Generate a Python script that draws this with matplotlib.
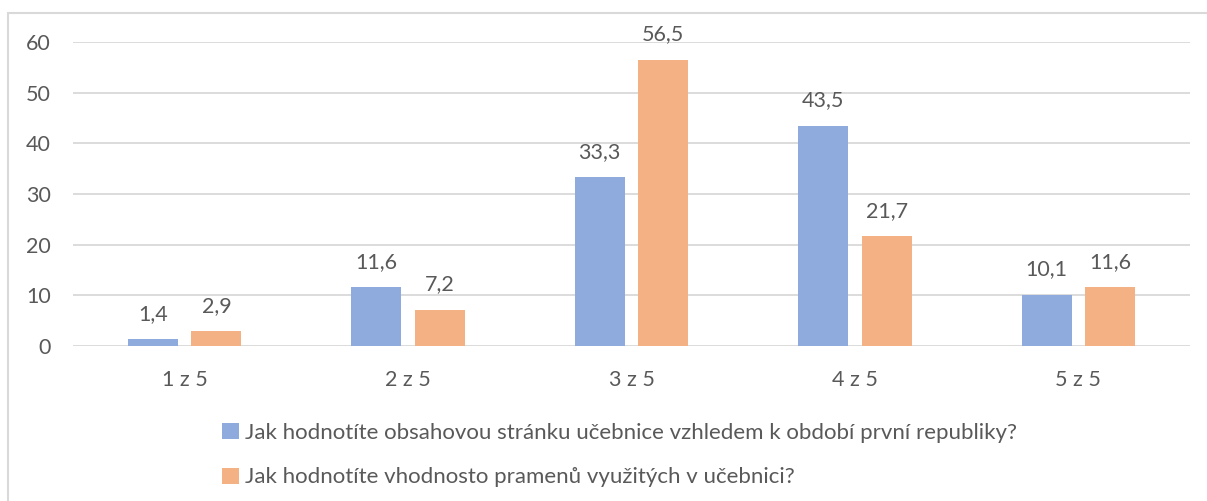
import matplotlib
matplotlib.use("Agg")
import matplotlib.pyplot as plt
import numpy as np
from matplotlib.patches import Rectangle

categories = ["1 z 5", "2 z 5", "3 z 5", "4 z 5", "5 z 5"]
obsah = [1.4, 11.6, 33.3, 43.5, 10.1]
prameny = [2.9, 7.2, 56.5, 21.7, 11.6]
series_names = [
    "Jak hodnotíte obsahovou stránku učebnice vzhledem k období první republiky?",
    "Jak hodnotíte vhodnosto pramenů využitých v učebnici?",
]

BLUE = "#8FAADC"
ORANGE = "#F4B183"
TEXT = "#595959"
GRID = "#D9D9D9"

plt.rcParams["font.family"] = ["Lato", "DejaVu Sans"]
plt.rcParams["font.size"] = 15

fig = plt.figure(figsize=(12.07, 5.01), dpi=100)
W, H = 1207, 501
ax = fig.add_axes([73 / W, 1 - 346 / H, (1190 - 73) / W, (346 - 42) / H])

x = np.arange(len(categories))
width = 0.224
off = 0.142
b1 = ax.bar(x - off, obsah, width, color=BLUE, label=series_names[0], zorder=3)
b2 = ax.bar(x + off, prameny, width, color=ORANGE, label=series_names[1], zorder=3)

# popisky hodnot nad sloupci (desetinna carka)
for bars, vals in ((b1, obsah), (b2, prameny)):
    for rect, v in zip(bars, vals):
        ax.annotate(f"{v:.1f}".replace(".", ","),
                    (rect.get_x() + rect.get_width() / 2, rect.get_height()),
                    xytext=(0, 11), textcoords="offset points",
                    ha="center", va="bottom", color=TEXT, fontsize=15.5)

ax.set_xlim(-0.5, len(categories) - 0.5)
ax.set_ylim(0, 60)
ax.set_yticks(range(0, 61, 10))
ax.set_xticks(x)
ax.set_xticklabels(categories)
ax.yaxis.grid(True, color=GRID, linewidth=1.3, zorder=0)
for s in ax.spines.values():
    s.set_visible(False)
ax.tick_params(axis="both", length=0, colors=TEXT, labelsize=15.5)
ax.tick_params(axis="x", pad=17)
ax.tick_params(axis="y", pad=16)

fig.legend(handles=[b1, b2], loc="upper left", bbox_to_anchor=(222 / W, 1 - 423 / H),
           frameon=False, borderpad=0, borderaxespad=0, handlelength=0.75,
           handleheight=0.75, handletextpad=0.3, labelspacing=1.1,
           labelcolor=TEXT, fontsize=16)

# ramecek grafu (vlevo a nahore viditelny)
fig.patches.append(Rectangle((8 / W, -0.1), 1.2, 1 - 13 / H + 0.1, transform=fig.transFigure,
                             fill=False, edgecolor="#D9D9D9", linewidth=1.5))

fig.savefig("out.png", dpi=100)
